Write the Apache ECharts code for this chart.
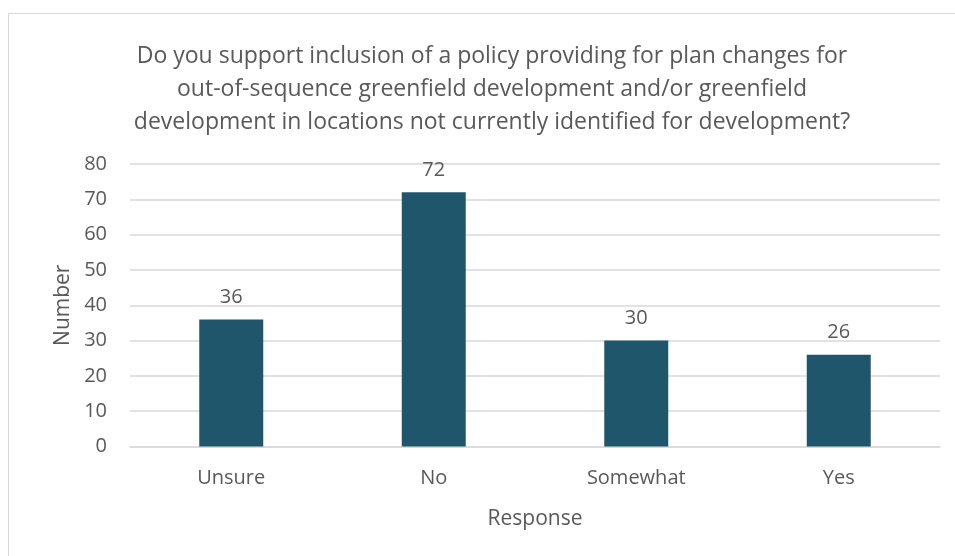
<!DOCTYPE html>
<html>
<head>
<meta charset="utf-8">
<script src="https://cdn.jsdelivr.net/npm/echarts@6/dist/echarts.min.js"></script>
<style>
  html, body { margin: 0; padding: 0; background: #fff; }
  #frame { position: absolute; left: 8px; top: 13px; width: 980px; height: 600px; border: 1.5px solid #d9d9d9; box-sizing: border-box; }
  #chart { position: absolute; left: 0; top: 0; width: 955px; height: 556px; }
</style>
</head>
<body>
<div id="frame"></div>
<div id="chart"></div>
<script>
const titleText = 'Do you support inclusion of a policy providing for plan changes for\nout-of-sequence greenfield development and/or greenfield\ndevelopment in locations not currently identified for development?';
const categories = ['Unsure', 'No', 'Somewhat', 'Yes'];
const counts = [36, 72, 30, 26];
const yTicks = { min: 0, max: 80, interval: 10 };

const FONT = '"Open Sans", sans-serif';
const TEXT = '#595959';

const chart = echarts.init(document.getElementById('chart'), null, { renderer: 'canvas' });
chart.setOption({
  backgroundColor: 'transparent',
  animation: false,
  title: {
    text: titleText,
    left: 487,
    top: 35,
    textAlign: 'center',
    textStyle: { fontFamily: FONT, fontSize: 23, fontWeight: 'normal', color: TEXT, lineHeight: 33 }
  },
  grid: { left: 130, right: 15, top: 164, bottom: 109.5 },
  xAxis: {
    type: 'category',
    data: categories,
    name: 'Response',
    nameLocation: 'middle',
    nameGap: 62,
    nameTextStyle: { fontFamily: FONT, fontSize: 21, color: TEXT },
    axisLine: { show: true, lineStyle: { color: '#d9d9d9', width: 1.5 } },
    axisTick: { show: false },
    axisLabel: { fontFamily: FONT, fontSize: 20, color: TEXT, margin: 22 }
  },
  yAxis: {
    type: 'value',
    min: yTicks.min,
    max: yTicks.max,
    interval: yTicks.interval,
    name: 'Number',
    nameLocation: 'middle',
    nameGap: 56,
    nameTextStyle: { fontFamily: FONT, fontSize: 21, color: TEXT },
    axisLine: { show: false },
    axisTick: { show: false },
    axisLabel: { fontFamily: FONT, fontSize: 20, color: TEXT, margin: 23 },
    splitLine: { lineStyle: { color: '#d9d9d9', width: 1.5 } }
  },
  series: [{
    type: 'bar',
    data: counts,
    barWidth: '31.6%',
    itemStyle: { color: '#1F566B' },
    label: {
      show: true,
      position: 'top',
      distance: 12,
      fontFamily: FONT,
      fontSize: 20,
      color: TEXT
    }
  }]
});
</script>
</body>
</html>
